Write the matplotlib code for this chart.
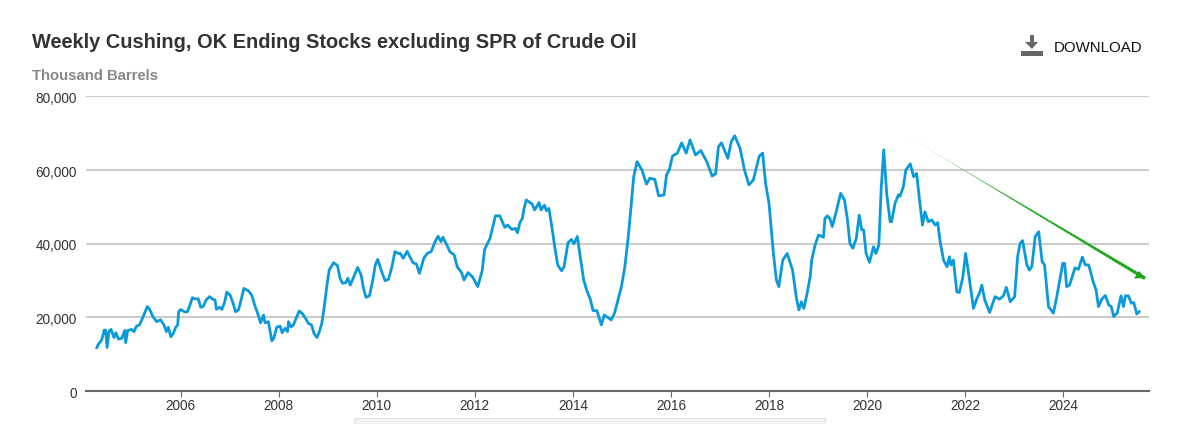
import matplotlib
matplotlib.use('Agg')
import matplotlib.pyplot as plt
from matplotlib.collections import LineCollection
from matplotlib.patches import Polygon, Rectangle
import numpy as np

# values, x in decimal years, y in thousand barrels
years = [2004.29, 2004.32, 2004.39, 2004.44, 2004.47, 2004.50, 2004.54, 2004.58, 2004.64, 2004.68,
         2004.73, 2004.80, 2004.86, 2004.88, 2004.92, 2005.00, 2005.05, 2005.10, 2005.16, 2005.24,
         2005.32, 2005.37, 2005.43, 2005.51, 2005.59, 2005.66, 2005.71, 2005.75, 2005.80, 2005.85,
         2005.90, 2005.94, 2005.96, 2006.00, 2006.09, 2006.14, 2006.19, 2006.24, 2006.29, 2006.36,
         2006.41, 2006.46, 2006.52, 2006.59, 2006.65, 2006.70, 2006.73, 2006.80, 2006.84, 2006.90,
         2006.94, 2007.01, 2007.07, 2007.12, 2007.18, 2007.22, 2007.29, 2007.38, 2007.45, 2007.52,
         2007.56, 2007.63, 2007.69, 2007.72, 2007.79, 2007.86, 2007.90, 2007.96, 2008.03, 2008.07,
         2008.13, 2008.18, 2008.20, 2008.25, 2008.30, 2008.37, 2008.42, 2008.49, 2008.56, 2008.60,
         2008.67, 2008.72, 2008.78, 2008.83, 2008.88, 2008.93, 2008.98, 2009.03, 2009.12, 2009.20,
         2009.25, 2009.30, 2009.37, 2009.41, 2009.46, 2009.52, 2009.61, 2009.68, 2009.73, 2009.78,
         2009.85, 2009.92, 2009.97, 2010.02, 2010.10, 2010.17, 2010.24, 2010.31, 2010.37, 2010.44,
         2010.48, 2010.54, 2010.62, 2010.69, 2010.74, 2010.81, 2010.87, 2010.96, 2011.03, 2011.11,
         2011.18, 2011.25, 2011.31, 2011.35, 2011.43, 2011.49, 2011.58, 2011.64, 2011.73, 2011.78,
         2011.86, 2011.95, 2012.06, 2012.15, 2012.20, 2012.31, 2012.42, 2012.51, 2012.61, 2012.67,
         2012.76, 2012.83, 2012.87, 2012.92, 2012.97, 2013.00, 2013.05, 2013.17, 2013.22, 2013.31,
         2013.35, 2013.42, 2013.46, 2013.51, 2013.56, 2013.63, 2013.69, 2013.77, 2013.82, 2013.90,
         2013.97, 2014.02, 2014.09, 2014.16, 2014.22, 2014.28, 2014.36, 2014.41, 2014.49, 2014.58,
         2014.64, 2014.78, 2014.85, 2014.92, 2014.99, 2015.06, 2015.13, 2015.18, 2015.24, 2015.31,
         2015.41, 2015.50, 2015.57, 2015.67, 2015.75, 2015.86, 2015.91, 2015.97, 2016.03, 2016.13,
         2016.22, 2016.31, 2016.39, 2016.50, 2016.61, 2016.73, 2016.84, 2016.91, 2016.97, 2017.03,
         2017.16, 2017.23, 2017.30, 2017.41, 2017.50, 2017.59, 2017.68, 2017.80, 2017.87, 2017.93,
         2018.00, 2018.09, 2018.15, 2018.20, 2018.28, 2018.37, 2018.48, 2018.56, 2018.61, 2018.66,
         2018.71, 2018.77, 2018.84, 2018.87, 2018.94, 2019.01, 2019.11, 2019.14, 2019.19, 2019.24,
         2019.29, 2019.37, 2019.46, 2019.54, 2019.60, 2019.65, 2019.71, 2019.78, 2019.84, 2019.89,
         2019.93, 2019.98, 2020.05, 2020.13, 2020.18, 2020.24, 2020.29, 2020.34, 2020.40, 2020.47,
         2020.50, 2020.57, 2020.64, 2020.67, 2020.74, 2020.79, 2020.88, 2020.95, 2021.01, 2021.07,
         2021.13, 2021.18, 2021.25, 2021.32, 2021.39, 2021.44, 2021.49, 2021.56, 2021.63, 2021.68,
         2021.71, 2021.76, 2021.83, 2021.88, 2021.95, 2022.01, 2022.08, 2022.17, 2022.24, 2022.29,
         2022.34, 2022.40, 2022.50, 2022.61, 2022.70, 2022.78, 2022.84, 2022.92, 2023.01, 2023.07,
         2023.12, 2023.17, 2023.26, 2023.31, 2023.36, 2023.43, 2023.50, 2023.57, 2023.62, 2023.70,
         2023.80, 2023.87, 2023.99, 2024.03, 2024.07, 2024.13, 2024.20, 2024.24, 2024.31, 2024.39,
         2024.45, 2024.52, 2024.61, 2024.67, 2024.72, 2024.79, 2024.86, 2024.93, 2024.98, 2025.03,
         2025.10, 2025.18, 2025.23, 2025.27, 2025.33, 2025.39, 2025.44, 2025.50, 2025.55]
stocks = [11750, 12650, 13800, 16500, 16500, 11800, 16300, 16700, 14500, 15800,
          14100, 14300, 16400, 13100, 16400, 16700, 16100, 17600, 17900, 20300,
          22900, 22100, 20300, 18800, 19300, 17900, 16100, 17300, 14700, 15600,
          17300, 17900, 21500, 22100, 21400, 21500, 23300, 25300, 25000, 25000,
          22700, 22900, 24700, 25600, 24900, 24700, 22200, 22700, 22100, 24200,
          26800, 26000, 23800, 21500, 22000, 24000, 27800, 27200, 26000, 22900,
          21500, 18500, 20600, 18500, 18800, 13600, 14300, 17300, 17600, 15800,
          17000, 16100, 18800, 17400, 17900, 20200, 21700, 20900, 19400, 18400,
          17900, 15600, 14500, 16100, 18400, 22900, 28300, 32800, 34800, 34000,
          30600, 29200, 29400, 30600, 28700, 30600, 33500, 31500, 27800, 25400,
          25800, 30100, 34200, 35700, 32400, 29900, 30300, 33700, 37800, 37300,
          37300, 36000, 37900, 36000, 34800, 34400, 31900, 36000, 37300, 37800,
          40200, 42000, 40500, 41700, 39600, 37800, 36900, 33700, 32100, 30100,
          32100, 31000, 28300, 32600, 38400, 41400, 47500, 47500, 44400, 45000,
          43800, 44100, 42900, 45700, 46800, 49300, 51800, 50700, 49100, 51100,
          49100, 50400, 48900, 49500, 45500, 39100, 34200, 32600, 33700, 40200,
          41100, 39900, 41900, 35500, 30100, 27400, 24700, 21800, 21800, 17900,
          20600, 19300, 21100, 24700, 28300, 33700, 41900, 49100, 58100, 62200,
          59900, 56100, 57700, 57400, 52900, 53200, 58600, 60100, 63700, 64500,
          67300, 64500, 68100, 64000, 65200, 62200, 58300, 58900, 66300, 67300,
          63100, 67600, 69200, 65800, 59900, 55900, 57200, 63700, 64500, 56300,
          50900, 37300, 30100, 28300, 35500, 37300, 32800, 25100, 22000, 24200,
          22400, 26000, 31000, 35500, 39600, 42300, 41700, 46800, 47500, 46800,
          44600, 48600, 53600, 51800, 46400, 40000, 38700, 41400, 47700, 43700,
          43700, 37300, 34900, 39100, 37300, 39600, 55400, 65400, 53600, 45900,
          45900, 50900, 53200, 52800, 55400, 59900, 61600, 58100, 59000, 51800,
          45000, 48600, 45900, 46400, 45000, 45700, 40500, 35500, 33700, 36400,
          34200, 35500, 26900, 26700, 30600, 37300, 31000, 22400, 25100, 26500,
          28700, 24700, 21300, 25600, 24900, 25800, 28100, 24200, 25600, 36400,
          40000, 40800, 34200, 32800, 33700, 41900, 43200, 35100, 34200, 22900,
          21100, 25600, 34600, 34600, 28300, 28700, 31700, 33400, 33000, 36300,
          34200, 34200, 29700, 27400, 22900, 25000, 25900, 23300, 22900, 20200,
          21100, 25800, 22900, 25800, 25800, 23800, 24000, 20900, 21500]

x_ticks = [2006, 2008, 2010, 2012, 2014, 2016, 2018, 2020, 2022, 2024]
y_ticks = [0, 20000, 40000, 60000, 80000]
y_labels = ['0', '20,000', '40,000', '60,000', '80,000']

trend_start = (2020.81, 69150)
trend_end = (2025.67, 30550)

W = 1204
H = 424
plt.rcParams['font.family'] = ['Liberation Sans', 'DejaVu Sans']

fig = plt.figure(figsize=(W / 100, H / 100), dpi=100)
ax = fig.add_axes([86 / W, 1 - 391 / H, (1149 - 86) / W, (391 - 96) / H])
ax.set_xlim(2004.07, 2025.75)
ax.set_ylim(0, 80000)


def px(x, y):
    # pixel position in the picture -> figure fraction
    return x / W, 1 - y / H


# grid and axis
ax.set_axisbelow(True)
ax.grid(axis='y', color='#cccccc', lw=1.5)
for s in ['top', 'left', 'right']:
    ax.spines[s].set_visible(False)
ax.spines['bottom'].set_color('#666666')
ax.spines['bottom'].set_linewidth(1.5)
ax.set_xticks(x_ticks)
ax.set_xticklabels([str(y) for y in x_ticks])
ax.set_yticks(y_ticks)
ax.set_yticklabels([])
ax.tick_params(axis='x', color='#666666', length=4, width=0.8, labelsize=9.8, labelcolor='#333333', pad=2)
ax.tick_params(axis='y', length=0)
# y labels sit a little below their grid line
for val, lab in zip(y_ticks, y_labels):
    ax.annotate(lab, xy=(0, val), xycoords=('axes fraction', 'data'), xytext=(-6.5, -2),
                textcoords='offset points', ha='right', va='center', fontsize=9.8, color='#333333')

# series
ax.plot(years, stocks, color='#0a9ad9', lw=2, solid_joinstyle='round', clip_on=False, zorder=3)

# trend arrow, fades in and gets thicker towards the head
n = 80
xs = np.linspace(trend_start[0], trend_end[0], n)
ys = np.linspace(trend_start[1], trend_end[1], n)
segs = [[(xs[i], ys[i]), (xs[i + 1], ys[i + 1])] for i in range(n - 1)]
f = np.linspace(0, 1, n - 1)
cols = [(0.09, 0.65, 0.09, min(1, 0.1 + 2.0 * v)) for v in f]
ax.add_collection(LineCollection(segs, colors=cols, linewidths=0.1 + 2.4 * f ** 1.3, zorder=4, capstyle='butt'))
head = Polygon([px(1145, 278), px(1134, 278.5), px(1139, 271)], closed=True,
               transform=fig.transFigure, color='#17a617', lw=0, zorder=5)
fig.add_artist(head)

# texts
fig.text(32 / W, 1 - 43 / H, 'Weekly Cushing, OK Ending Stocks excluding SPR of Crude Oil',
         fontsize=14.4, fontweight='bold', color='#333333', va='center', ha='left')
fig.text(32 / W, 1 - 76 / H, 'Thousand Barrels', fontsize=10.7, fontweight='bold',
         color='#888888', va='center', ha='left')
fig.text(1054 / W, 1 - 48 / H, 'DOWNLOAD', fontsize=10.8, color='#111111', va='center', ha='left')

# download icon
icon = [Polygon([px(1030, 35), px(1034, 35), px(1034, 42), px(1038, 42), px(1032, 49), px(1025, 42), px(1030, 42)],
                closed=True, transform=fig.transFigure, color='#666666', lw=0),
        Rectangle(px(1021, 55.5), 22 / W, 4.5 / H, transform=fig.transFigure, color='#666666', lw=0)]
for a in icon:
    fig.add_artist(a)

# scrollbar stub at the bottom edge
fig.add_artist(Rectangle(px(354, 424), (825 - 354) / W, 6 / H, transform=fig.transFigure,
                         facecolor='#f2f2f2', edgecolor='#e4e4e4', lw=0.8))

fig.savefig('out.png', dpi=100)
